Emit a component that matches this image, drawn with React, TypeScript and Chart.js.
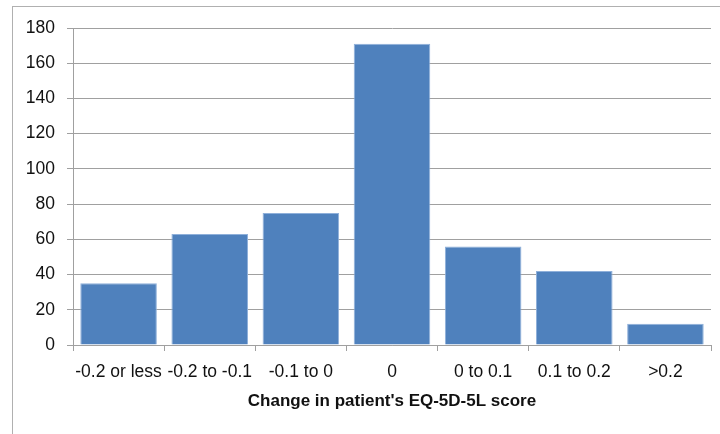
import React, { useEffect, useRef } from "react";
import { Chart, registerables } from "chart.js";

Chart.register(...registerables);

const categories = ["-0.2 or less", "-0.2 to -0.1", "-0.1 to 0", "0", "0 to 0.1", "0.1 to 0.2", ">0.2"];
const counts = [35, 63, 75, 171, 56, 42, 12];
const yTicks = [0, 20, 40, 60, 80, 100, 120, 140, 160, 180];
const xTitle = "Change in patient's EQ-5D-5L score";

export default function App() {
  const ref = useRef<HTMLCanvasElement>(null);
  useEffect(() => {
    document.body.style.margin = "0";
    const ctx = ref.current!;
    const chart = new Chart(ctx, {
      type: "bar",
      data: {
        labels: categories,
        datasets: [
          {
            data: counts,
            backgroundColor: "#4f81bd",
            borderColor: "#8fb0da",
            borderWidth: 1,
            barPercentage: 0.84,
            categoryPercentage: 1,
          },
        ],
      },
      options: {
        animation: false,
        responsive: false,
        devicePixelRatio: 1,
        layout: { autoPadding: false, padding: { top: 28, right: 9, left: 0, bottom: 0 } },
        plugins: { legend: { display: false }, tooltip: { enabled: false } },
        scales: {
          x: {
            afterFit: (s: any) => { s.height = 89; },
            grid: { display: true, drawOnChartArea: false, tickLength: 6, color: "#a0a0a0", offset: true },
            border: { display: true, color: "#a0a0a0" },
            ticks: {
              autoSkip: false,
              maxRotation: 0,
              minRotation: 0,
              padding: 11,
              color: "#111",
              font: { family: "Liberation Sans", size: 17.5 },
            },
            title: {
              display: true,
              text: xTitle,
              color: "#111",
              padding: { top: 6, bottom: 22 },
              font: { family: "Liberation Sans", size: 17, weight: "bold" },
            },
          },
          y: {
            min: 0,
            max: 180,
            afterFit: (s: any) => { s.width = 73; },
            afterBuildTicks: (s: any) => { s.ticks = yTicks.map((v) => ({ value: v })); },
            grid: { color: "#a0a0a0", tickLength: 6 },
            border: { display: true, color: "#a0a0a0" },
            ticks: {
              padding: 12,
              color: "#111",
              font: { family: "Liberation Sans", size: 17.5 },
            },
          },
        },
      },
    });
    return () => chart.destroy();
  }, []);
  return (
    <div style={{ position: "fixed", left: 0, top: 0, width: 720, height: 434, overflow: "hidden", background: "#fff" }}>
      <div
        style={{
          position: "absolute",
          left: 12,
          top: 6,
          width: 720,
          height: 440,
          border: "1px solid #b0b0b0",
        }}
      />
      <canvas ref={ref} width={720} height={434} style={{ position: "absolute", left: 0, top: 0 }} />
    </div>
  );
}
